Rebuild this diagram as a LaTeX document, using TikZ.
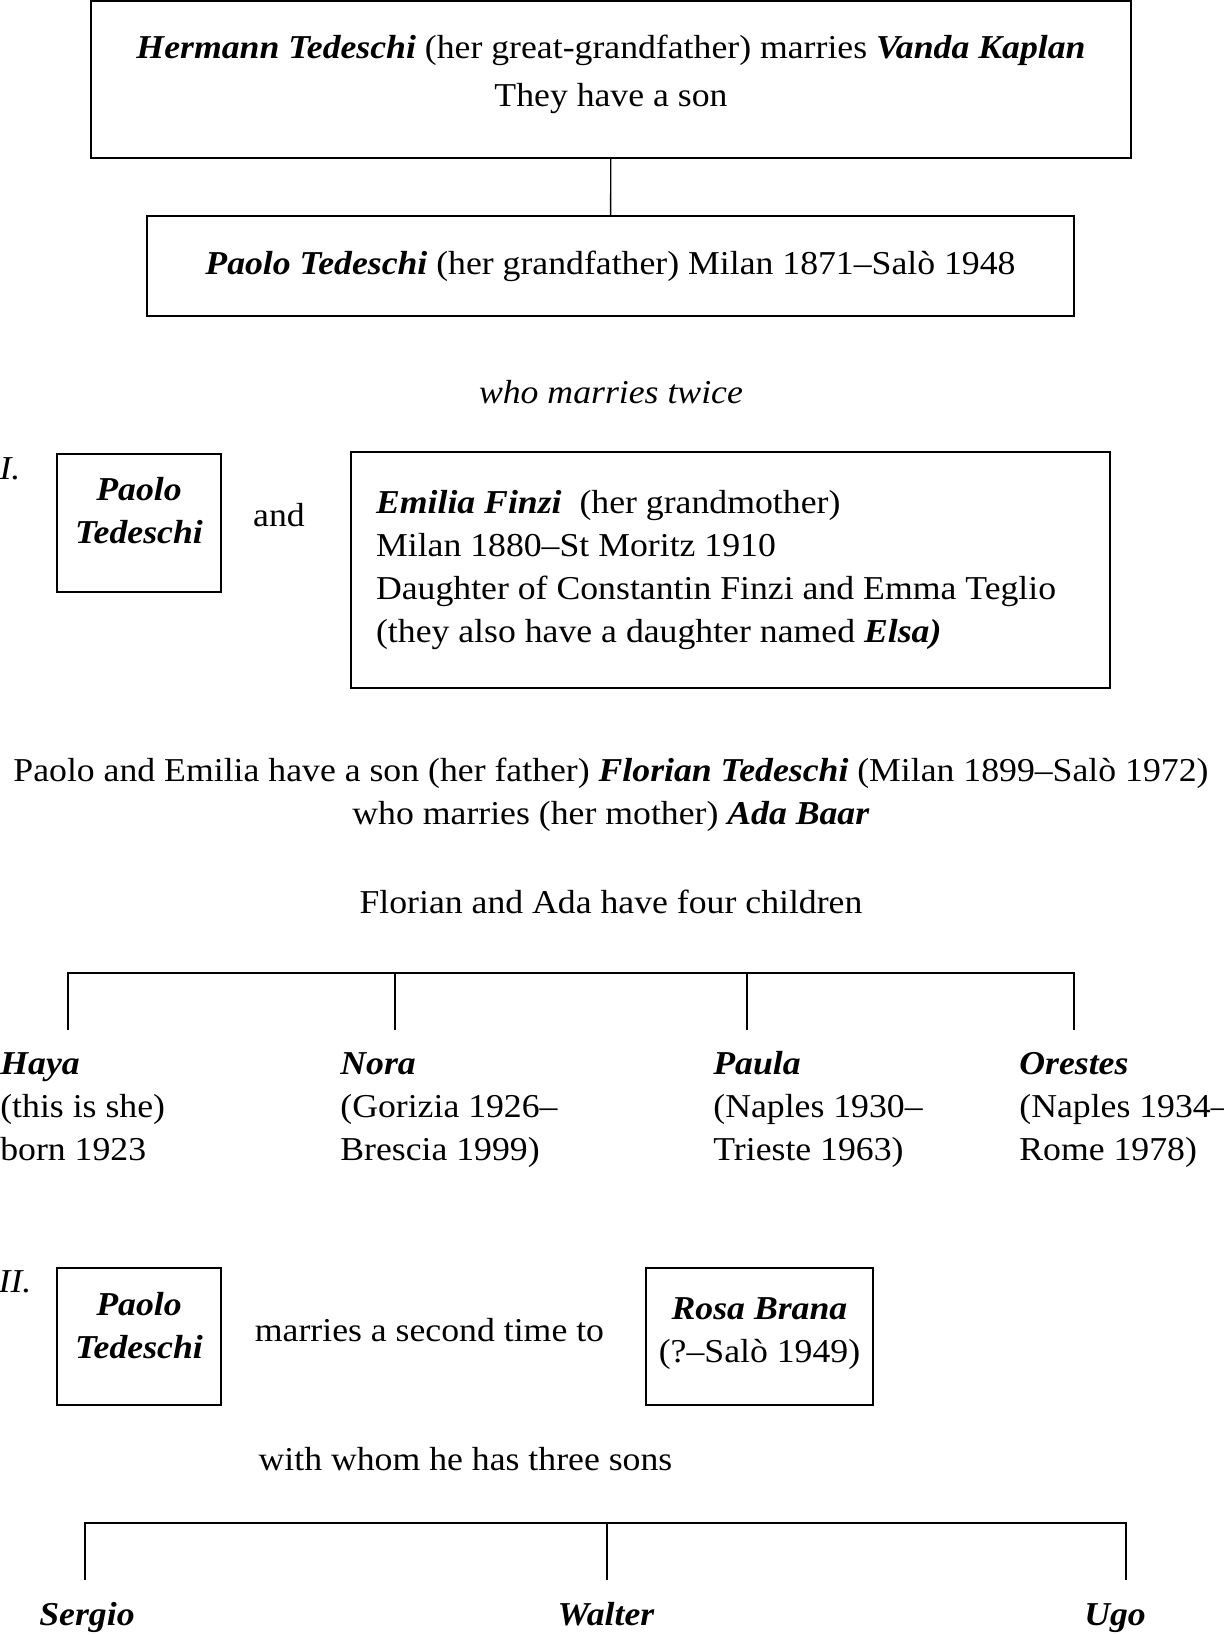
\documentclass[tikz,border=0pt]{standalone}
\usepackage{fontspec}
\setmainfont{Liberation Serif}[FakeStretch = 1.07]
\usetikzlibrary{positioning}

\begin{document}
\begin{tikzpicture}[x = 0.02cm, y = -0.02cm]

\tikzset{
person/.style = {rectangle, draw, line width = 1pt, inner sep = 2pt, align = center},
caption/.style = {inner sep = 0pt, align = center},
child/.style = {inner sep = 0pt, align = flush left, anchor = north west},
son/.style = {inner sep = 0pt, anchor = base, font = \bfseries\itshape},
link/.style = {line width = 0.8pt},
	}
\newcommand{\nm}[1]{\textbf{\textit{#1}}}
% deeper last line, so the text sits higher in its box
\newcommand{\lift}[1]{\rule[-#1]{0pt}{#1}}
\fontsize{19}{24.4}\selectfont

\useasboundingbox (0, 0) rectangle (1223, 1635);

%% Ancestors
\node at (611, 79.5) [person, minimum width = 20.8cm, minimum height = 3.14cm] (hermann)
	{\nm{Hermann Tedeschi} (her great-grandfather) marries \nm{Vanda Kaplan}\\[3pt]They have a son\lift{10pt}};
\node at (610.5, 266) [person, minimum width = 18.54cm, minimum height = 2cm] (paolo)
	{\nm{Paolo Tedeschi} (her grandfather) Milan 1871--Salò 1948};
\node at (611, 392) [caption, font = \itshape] (twice) {who marries twice};

\path [link] (hermann) edge [] (paolo);

%% First marriage
\node at (10, 469) [caption, font = \itshape] (first) {I.};
\node at (139, 523) [person, minimum width = 3.28cm, minimum height = 2.76cm] (paoloI)
	{\nm{Paolo}\\\nm{Tedeschi}\lift{14pt}};
\node at (279, 515) [caption] (and) {and};
\node at (730.5, 570) [person, minimum width = 15.18cm, minimum height = 4.72cm,
	text width = 14.18cm, inner xsep = 0.5cm, align = flush left] (emilia)
	{\nm{Emilia Finzi}\ \ (her grandmother)\\Milan 1880--St Moritz 1910\\
	Daughter of Constantin Finzi and Emma Teglio\\(they also have a daughter named \nm{Elsa)}};

\node at (611, 795) [caption] (florian)
	{Paolo and Emilia have a son (her father) \nm{Florian Tedeschi} (Milan 1899--Salò 1972)\\
	who marries (her mother) \nm{Ada Baar}};
\node at (611, 902) [caption] (four) {Florian and Ada have four children};

% Four children
\coordinate (hayaup) at (68, 973);
\coordinate (hayadn) at (68, 1030);
\coordinate (noraup) at (395, 973);
\coordinate (noradn) at (395, 1030);
\coordinate (paulaup) at (747, 973);
\coordinate (pauladn) at (747, 1030);
\coordinate (orestesup) at (1074, 973);
\coordinate (orestesdn) at (1074, 1030);

\draw [link] (hayadn) -- (hayaup) -- (orestesup) -- (orestesdn);
\path [link] (noraup) edge [] (noradn) (paulaup) edge [] (pauladn);

\node at (0, 1044) [child] (haya) {\nm{Haya}\strut\\(this is she)\strut\\born 1923\strut};
\node at (340, 1044) [child] (nora) {\nm{Nora}\strut\\(Gorizia 1926--\strut\\Brescia 1999)\strut};
\node at (713, 1044) [child] (paula) {\nm{Paula}\strut\\(Naples 1930--\strut\\Trieste 1963)\strut};
\node at (1019, 1044) [child] (orestes) {\nm{Orestes}\strut\\(Naples 1934--\strut\\Rome 1978)\strut};

%% Second marriage
\node at (15, 1282) [caption, font = \itshape] (second) {II.};
\node at (139, 1336.5) [person, minimum width = 3.28cm, minimum height = 2.74cm] (paoloII)
	{\nm{Paolo}\\\nm{Tedeschi}\lift{12.5pt}};
\node at (429.5, 1330) [caption] (again) {marries a second time to};
\node at (759.5, 1336.5) [person, minimum width = 4.54cm, minimum height = 2.74cm] (rosa)
	{\nm{Rosa Brana}\\(?--Salò 1949)\lift{7pt}};
\node at (465.5, 1459) [caption] (three) {with whom he has three sons};

% Three sons
\coordinate (sergioup) at (85, 1523);
\coordinate (sergiodn) at (85, 1580);
\coordinate (walterup) at (607, 1523);
\coordinate (walterdn) at (607, 1580);
\coordinate (ugoup) at (1126, 1523);
\coordinate (ugodn) at (1126, 1580);

\draw [link] (sergiodn) -- (sergioup) -- (ugoup) -- (ugodn);
\path [link] (walterup) edge [] (walterdn);

\node at (87, 1625) [son] (sergio) {Sergio};
\node at (606, 1625) [son] (walter) {Walter};
\node at (1115, 1625) [son] (ugo) {Ugo};

\end{tikzpicture}
\end{document}
